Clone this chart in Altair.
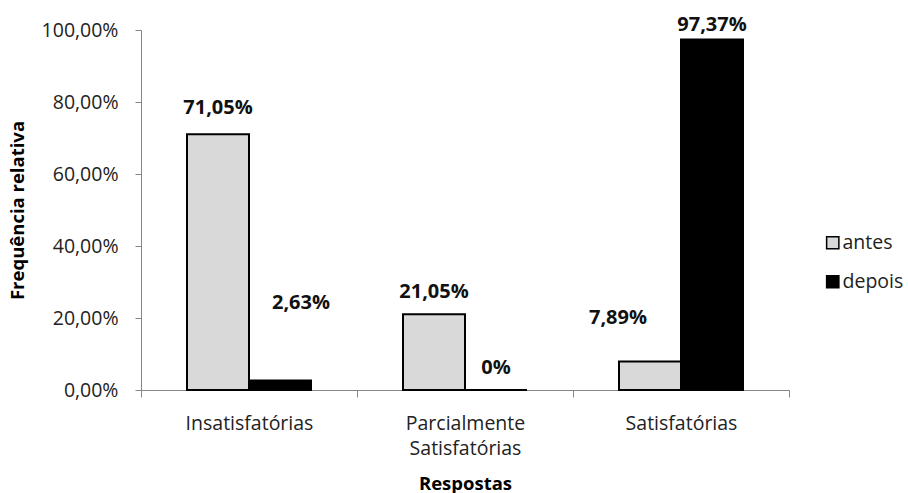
import altair as alt
import pandas as pd

# ---- data ----
categorias = ["Insatisfatórias", "Parcialmente Satisfatórias", "Satisfatórias"]
series = ["antes", "depois"]
antes = [71.05, 21.05, 7.89]
depois = [2.63, 0.0, 97.37]
rotulos_antes = ["71,05%", "21,05%", "7,89%"]
rotulos_depois = ["2,63%", "0%", "97,37%"]
y_ticks = [0, 0.2, 0.4, 0.6, 0.8, 1.0]

rows = []
for i, c in enumerate(categorias):
    rows.append({"categoria": c, "serie": "antes", "valor": antes[i] / 100, "rotulo": rotulos_antes[i]})
    rows.append({"categoria": c, "serie": "depois", "valor": depois[i] / 100, "rotulo": rotulos_depois[i]})
df = pd.DataFrame(rows)

FONT = "Open Sans"
AXIS_GRAY = "#868686"
LABEL_SIZE = 19.5

x_enc = alt.X(
    "categoria:N",
    sort=categorias,
    scale=alt.Scale(paddingInner=0, paddingOuter=0),
    axis=alt.Axis(
        title="Respostas",
        labelAngle=0,
        labelExpr="split(datum.label, ' ')",
        tickBand="extent",
        tickSize=7,
        labelPadding=17,
        labelLineHeight=25,
        labelFontSize=LABEL_SIZE,
        labelFont=FONT,
        labelColor="#222222",
        domainColor=AXIS_GRAY,
        tickColor=AXIS_GRAY,
        titleFont=FONT,
        titleFontSize=18.5,
        titleFontWeight="bold",
        titleColor="#000000",
        titleX=324,
        titleY=93,
        titleBaseline="middle",
        titleAlign="center",
    ),
)
xoff_enc = alt.XOffset("serie:N", sort=series, scale=alt.Scale(paddingInner=0, paddingOuter=0.742))
y_enc = alt.Y(
    "valor:Q",
    scale=alt.Scale(domain=[0, 1], nice=False),
    axis=alt.Axis(
        title="Frequência relativa",
        values=y_ticks,
        labelExpr="replace(format(datum.value, '.2%'), '.', ',')",
        grid=False,
        tickSize=6,
        labelPadding=17,
        labelFontSize=LABEL_SIZE,
        labelFont=FONT,
        labelColor="#222222",
        domainColor=AXIS_GRAY,
        tickColor=AXIS_GRAY,
        titleFont=FONT,
        titleFontSize=18.5,
        titleFontWeight="bold",
        titleColor="#000000",
        titleAngle=-90,
        titleX=-124,
        titleY=180,
        titleAlign="center",
        titleBaseline="middle",
    ),
)
color_enc = alt.Color(
    "serie:N",
    sort=series,
    scale=alt.Scale(domain=series, range=["#d9d9d9", "#000000"]),
    legend=alt.Legend(
        title=None,
        orient="none",
        legendX=682,
        legendY=203,
        symbolType="square",
        symbolSize=150,
        symbolStrokeColor="#000000",
        symbolStrokeWidth=1.5,
        symbolOpacity=1,
        labelFont=FONT,
        labelFontSize=LABEL_SIZE,
        labelColor="#222222",
        labelOffset=0,
        rowPadding=18,
    ),
)

bars = alt.Chart(df).mark_bar(stroke="#000000", strokeWidth=2, opacity=1).encode(
    x=x_enc, xOffset=xoff_enc, y=y_enc, color=color_enc
)

# manual label nudges (pixels), as placed in the original chart
nudges = {
    ("Insatisfatórias", "antes"): (0, -26),
    ("Insatisfatórias", "depois"): (21, -78),
    ("Parcialmente Satisfatórias", "antes"): (0, -22),
    ("Parcialmente Satisfatórias", "depois"): (0, -22),
    ("Satisfatórias", "antes"): (-32, -44),
    ("Satisfatórias", "depois"): (0, -14),
}

layers = [bars]
for (c, s), (dx, dy) in nudges.items():
    layers.append(
        alt.Chart(df)
        .transform_filter(f"datum.categoria === '{c}' && datum.serie === '{s}'")
        .mark_text(dx=dx, dy=dy, font=FONT, fontSize=20, fontWeight="bold", color="#111111", baseline="middle", align="center")
        .encode(x=alt.X("categoria:N", sort=categorias), xOffset=alt.XOffset("serie:N", sort=series), y=alt.Y("valor:Q"), text="rotulo:N")
    )

chart = (
    alt.layer(*layers)
    .properties(
        width=648,
        height=360,
        autosize=alt.AutoSizeParams(type="none"),
        padding={"left": 141, "top": 30, "right": 119, "bottom": 103},
        background="white",
    )
    .configure_view(stroke=None)
)

chart.save("out.html", embed_options={"renderer": "svg", "actions": False})
